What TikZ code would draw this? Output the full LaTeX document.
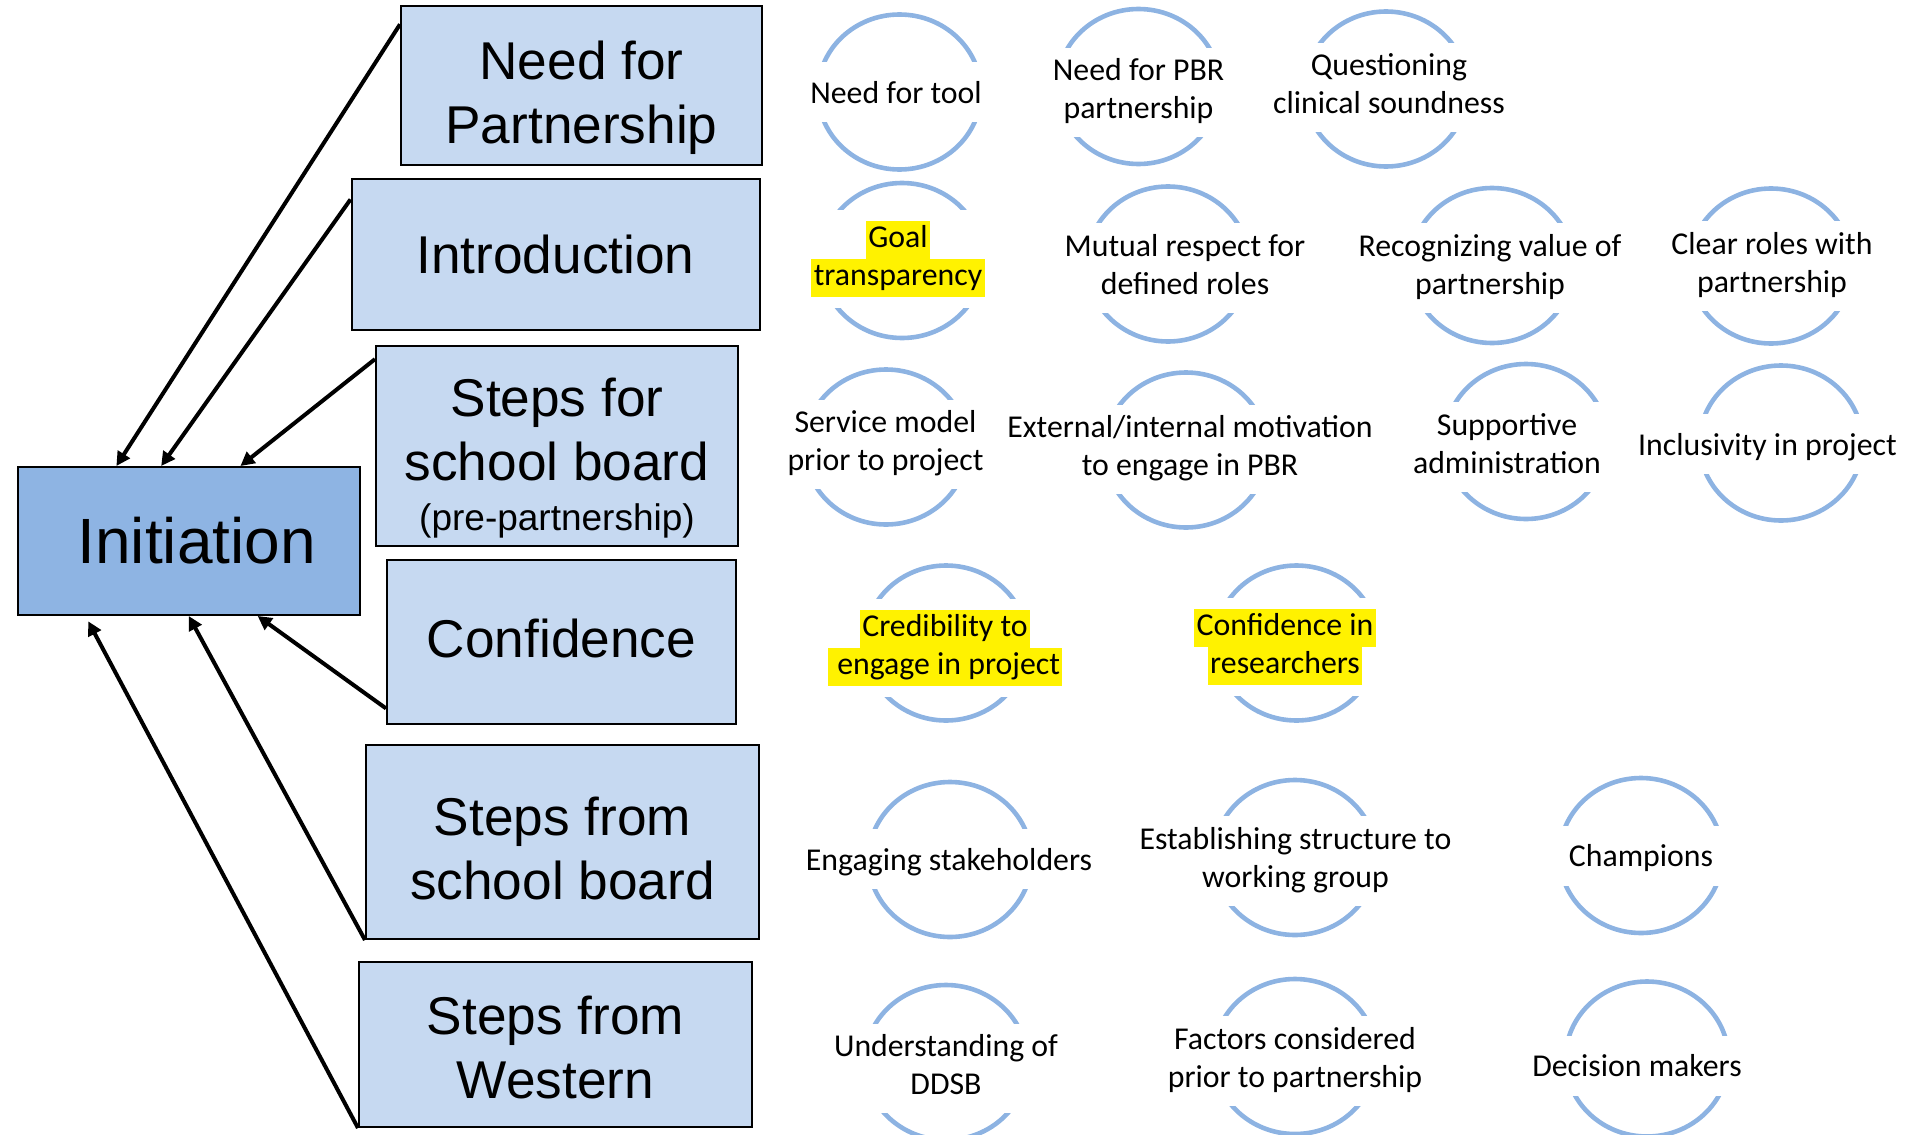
\documentclass[tikz,border=0pt]{standalone}
\usepackage{fontspec}
\newfontfamily\boxfont{Liberation Sans}
\newfontfamily\lblfont{Carlito}
\usetikzlibrary{arrows.meta,calc}
\definecolor{boxblue}{HTML}{C6D9F1}
\definecolor{initblue}{HTML}{8EB4E3}
\definecolor{ringblue}{HTML}{8DB3E2}
\newcommand{\hlite}[1]{{\setlength{\fboxsep}{0pt}\colorbox{yellow}{\strut\hspace{1.2pt}#1\hspace{1.2pt}}}}

\begin{document}
\begin{tikzpicture}[
  x=0.5pt, y=-0.5pt,
  box/.style={draw,line width=1pt,fill=boxblue,align=center,inner sep=0pt,
    font=\boxfont\fontsize{26.6}{32}\selectfont},
  ring/.style={draw=ringblue,line width=2.3pt},
  lbl/.style={fill=white,align=center,inner xsep=2pt,inner ysep=5.5pt,minimum width=104pt,
    font=\lblfont\fontsize{15.9}{19}\selectfont,
    execute at begin node={\rule{0pt}{15.1pt}},
    execute at end node={\rule[-3.9pt]{0pt}{3.9pt}}},
  arr/.style={-{Triangle[length=7pt,width=7pt]},line width=2pt}
]
\useasboundingbox (0,0) rectangle (1907,1135);

% left column
\node[box,minimum width=180.5pt,minimum height=79.5pt,text height=58pt,text depth=0pt] (need) at (581.5,85.5) {Need for\\Partnership};
\node[box,minimum width=204pt,minimum height=75.5pt] (intro) at (555.5,254.5) {Introduction};
\node[box,minimum width=181pt,minimum height=100pt,text height=84pt,text depth=0pt] (stepsfor) at (557,446)
  {Steps for\\school board\\[-7pt]{\fontsize{18.5}{22}\selectfont (pre-partnership)}};
\node[box,fill=initblue,minimum width=171.25pt,minimum height=74pt,
  font=\boxfont\fontsize{32}{38}\selectfont] (init) at (188.75,541) {\hspace*{8pt}Initiation};
\node[box,minimum width=174.5pt,minimum height=82pt,text depth=3.6pt] (conf) at (561.5,642) {Confidence};
\node[box,minimum width=196.5pt,minimum height=97pt,text height=57.4pt,text depth=0pt] (stepsfrom) at (562.5,842) {Steps from\\school board};
\node[box,minimum width=196.5pt,minimum height=82.5pt,text height=53.8pt,text depth=0pt] (western) at (555.5,1044.5) {Steps from\\Western};

\draw[arr] ($(need.north west)!0.12!(need.south west)$) -- ($(init.north west)!0.29!(init.north east)$);
\draw[arr] ($(intro.north west)!0.14!(intro.south west)$) -- ($(init.north west)!0.42!(init.north east)$);
\draw[arr] ($(stepsfor.north west)!0.07!(stepsfor.south west)$) -- ($(init.north west)!0.65!(init.north east)$);
\draw[arr] ($(conf.north west)!0.9!(conf.south west)$) -- ($(init.south west)!0.70!(init.south east)$);
\draw[arr] (stepsfrom.south west) -- ($(init.south west)!0.50!(init.south east)$);
\draw[arr,shorten >=3pt] (western.south west) -- ($(init.south west)!0.20!(init.south east)$);

% rings
\draw[ring] (899.5,92) ellipse [x radius=81.5,y radius=77.5];
\draw[ring] (1138.5,86.5) ellipse [x radius=81.5,y radius=77.5];
\draw[ring] (1386,89) ellipse [x radius=81.5,y radius=77.5];
\draw[ring] (902,260.5) ellipse [x radius=81.5,y radius=77.5];
\draw[ring] (1168,264) ellipse [x radius=81.5,y radius=77.5];
\draw[ring] (1492,265.5) ellipse [x radius=81.5,y radius=77.5];
\draw[ring] (1771,266) ellipse [x radius=81.5,y radius=77.5];
\draw[ring] (886,447) ellipse [x radius=81.5,y radius=77.5];
\draw[ring] (1186,450) ellipse [x radius=81.5,y radius=77.5];
\draw[ring] (1526,441.5) ellipse [x radius=81.5,y radius=77.5];
\draw[ring] (1781,443) ellipse [x radius=81.5,y radius=77.5];
\draw[ring] (946,643) ellipse [x radius=81.5,y radius=77.5];
\draw[ring] (1296.5,643) ellipse [x radius=81.5,y radius=77.5];
\draw[ring] (950,859.5) ellipse [x radius=81.5,y radius=77.5];
\draw[ring] (1295,857.5) ellipse [x radius=81.5,y radius=77.5];
\draw[ring] (1641,855.5) ellipse [x radius=81.5,y radius=77.5];
\draw[ring] (946,1062.5) ellipse [x radius=81.5,y radius=77.5];
\draw[ring] (1295,1056.5) ellipse [x radius=81.5,y radius=77.5];
\draw[ring] (1647,1059) ellipse [x radius=81.5,y radius=77.5];

% ring labels
\node[lbl] (tool) at (896,92) {Need for tool};
\node[lbl] (pbr) at (1138.5,92.5) {Need for PBR\\partnership};
\node[lbl] (sound) at (1389,87.5) {Questioning\\clinical soundness};
\node[lbl] (goal) at (898,258.5) {\hlite{Goal}\\\hlite{transparency}};
\node[lbl] (respect) at (1185,268) {Mutual respect for\\defined roles};
\node[lbl] (value) at (1490,268) {Recognizing value of\\partnership};
\node[lbl] (clear) at (1772,266) {Clear roles with\\partnership};
\node[lbl] (service) at (885.5,444.5) {Service model\\prior to project};
\node[lbl] (motive) at (1190,449.5) {External/internal motivation\\to engage in PBR};
\node[lbl] (admin) at (1507,447) {Supportive\\administration};
\node[lbl] (inclusive) at (1767.5,444) {Inclusivity in project};
\node[lbl] (cred) at (945,647.5) {\hlite{Credibility to}\\\hlite{~engage in project}};
\node[lbl] (trust) at (1285,647) {\hlite{Confidence in}\\\hlite{researchers}};
\node[lbl] (stake) at (949,859) {Engaging stakeholders};
\node[lbl] (struct) at (1295.5,861) {Establishing structure to\\working group};
\node[lbl] (champ) at (1641,855.5) {Champions};
\node[lbl] (ddsb) at (946,1068.5) {Understanding of\\DDSB};
\node[lbl] (factors) at (1295,1061) {Factors considered\\prior to partnership};
\node[lbl] (decide) at (1637,1065.5) {Decision makers};
\end{tikzpicture}
\end{document}
